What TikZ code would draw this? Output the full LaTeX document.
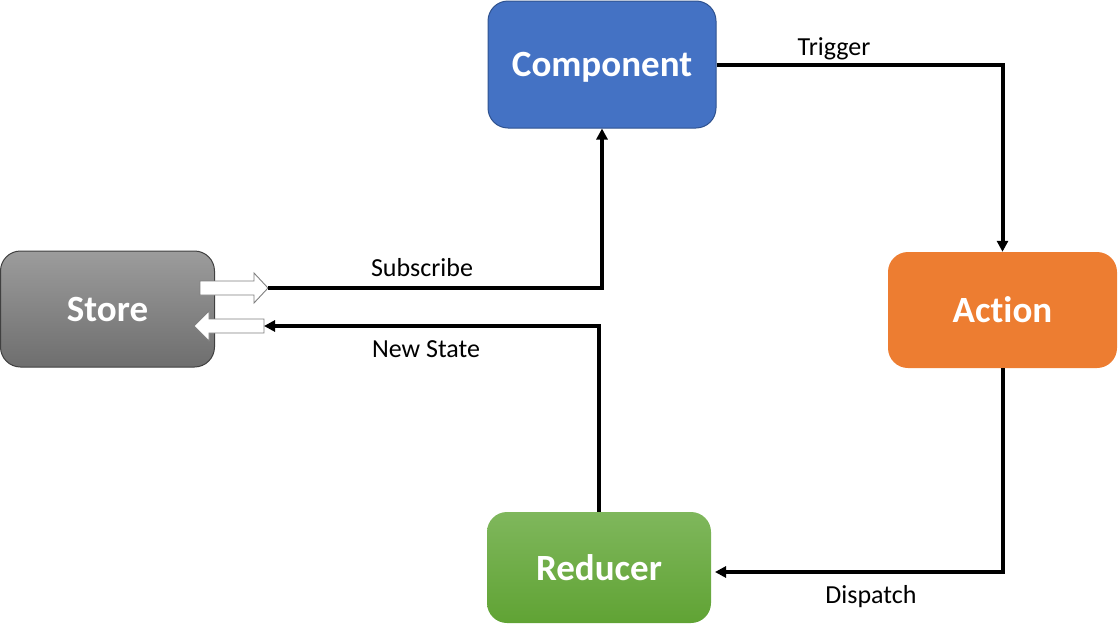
\documentclass[tikz,border=0pt]{standalone}
\usepackage{fontspec}
\setmainfont[Ligatures=NoCommon]{Carlito}
\usetikzlibrary{arrows.meta}
\definecolor{compblue}{HTML}{4472C4}
\definecolor{compborder}{HTML}{2F528F}
\definecolor{actorange}{HTML}{ED7D31}
\definecolor{storetop}{HTML}{9C9C9C}
\definecolor{storebot}{HTML}{6E6E6E}
\definecolor{redtop}{HTML}{7FB75C}
\definecolor{redbot}{HTML}{60A334}
\definecolor{blockgray}{HTML}{7F7F7F}
\tikzset{
  box/.style={rectangle, rounded corners=20pt, inner sep=0pt, text=white, text depth=0pt,
    font=\fontsize{37}{44}\selectfont\bfseries},
  conn/.style={line width=4pt, line join=miter, -{Triangle[length=11pt,width=11pt]}},
  lbl/.style={anchor=base, inner sep=0pt, font=\fontsize{26}{31}\selectfont},
  blockarrow/.style={draw=blockgray, fill=white, line width=0.9pt, line join=miter}
}
\begin{document}
\begin{tikzpicture}[x=1pt,y=-1pt]
\useasboundingbox (0,0) rectangle (1119,624);
% nodes
\node[box, draw=compborder, line width=1pt, fill=compblue, minimum width=228pt, minimum height=127pt] (comp) at (602,64.5) {Component};
\node[box, fill=actorange, minimum width=229pt, minimum height=116pt] (act) at (1002.5,310) {Action};
\node[box, draw=black!75, line width=1pt, top color=storetop, bottom color=storebot, minimum width=214pt, minimum height=116pt] (store) at (107.5,309) {Store};
\node[box, top color=redtop, bottom color=redbot, minimum width=224pt, minimum height=111pt] (red) at (599,567.5) {Reducer};
% block arrows at the store
\draw[blockarrow] (200,281) -- (254,281) -- (254,273) -- (268,288) -- (254,303) -- (254,295) -- (200,295) -- cycle;
\draw[blockarrow] (264,319) -- (209,319) -- (209,311) -- (194,326) -- (209,341) -- (209,333) -- (264,333) -- cycle;
\coordinate (subtip) at (268,288);
\coordinate (newtail) at (264,326);
\coordinate (redin) at (715,572);
% connectors
\draw[conn] (comp.east) -| (act.north);
\draw[conn] (act.south) |- (redin);
\draw[conn] (red.north) |- (newtail);
\draw[conn] (subtip) -| (comp.south);
% labels
\node[lbl] (ltrig) at (834,55) {Trigger};
\node[lbl] (lsub) at (422,276) {Subscribe};
\node[lbl] (lnew) at (426,357) {New State};
\node[lbl] (ldisp) at (871,603) {Dispatch};
\end{tikzpicture}
\end{document}
